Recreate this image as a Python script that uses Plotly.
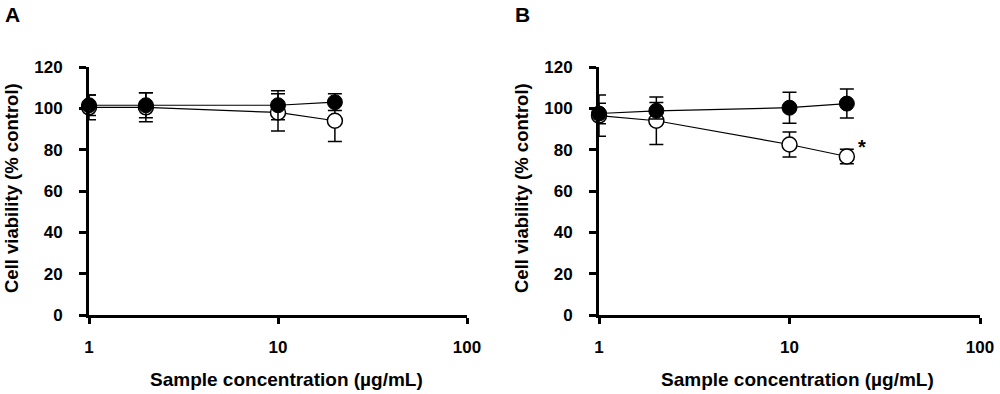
import plotly.graph_objects as go

conc = [1, 2, 10, 20]

# Panel A
a_filled = [101.5, 101.5, 101.5, 103.0]
a_filled_err = [5, 6, 7, 4]
a_open = [100.5, 100.5, 98.0, 94.0]
a_open_err = [6, 7, 9, 10]

# Panel B
b_filled = [97.5, 98.8, 100.3, 102.3]
b_filled_err = [5, 4, 7.5, 7]
b_open = [96.5, 94.0, 82.5, 76.7]
b_open_err = [10, 11.5, 6, 3.5]

x_ticks = [1, 10, 100]
x_ticktext = ["<b>1</b>", "<b>10</b>", "<b>100</b>"]
y_ticks = [0, 20, 40, 60, 80, 100, 120]
y_ticktext = ["<b>%d</b>" % v for v in y_ticks]

x_title = "<b>Sample concentration (µg/mL)</b>"
y_title = "<b>Cell viability (% control)</b>"

FONT = "Liberation Sans, Arial, sans-serif"

fig = go.Figure()

def add_panel(xa, ya, open_y, open_e, filled_y, filled_e):
    fig.add_trace(go.Scatter(
        x=conc, y=open_y, mode="lines+markers", xaxis=xa, yaxis=ya,
        line=dict(color="black", width=1.2),
        marker=dict(symbol="circle", size=15, color="white",
                    line=dict(color="black", width=1.5)),
        error_y=dict(type="data", array=open_e, visible=True,
                     color="black", thickness=1.5, width=7),
        cliponaxis=False, showlegend=False))
    fig.add_trace(go.Scatter(
        x=conc, y=filled_y, mode="lines+markers", xaxis=xa, yaxis=ya,
        line=dict(color="black", width=1.2),
        marker=dict(symbol="circle", size=15, color="black",
                    line=dict(color="black", width=1)),
        error_y=dict(type="data", array=filled_e, visible=True,
                     color="black", thickness=1.5, width=7),
        cliponaxis=False, showlegend=False))

add_panel("x", "y", a_open, a_open_err, a_filled, a_filled_err)
add_panel("x2", "y2", b_open, b_open_err, b_filled, b_filled_err)

ydom = [(394 - 315) / 394, (394 - 67) / 394]

xaxis_common = dict(
    type="log", range=[0, 2], tickvals=x_ticks, ticktext=x_ticktext,
    showline=True, linecolor="black", linewidth=2.8, mirror=False,
    ticks="outside", ticklen=6, tickwidth=2.8, tickcolor="black",
    showgrid=False, zeroline=False, automargin=False,
    ticklabelstandoff=9,
    tickfont=dict(family=FONT, size=17, color="black"),
)
yaxis_common = dict(
    range=[0, 120], tickvals=y_ticks, ticktext=y_ticktext,
    showline=True, linecolor="black", linewidth=2.8,
    ticks="outside", ticklen=7, tickwidth=2.8, tickcolor="black",
    showgrid=False, zeroline=False, automargin=False,
    ticklabelstandoff=13,
    tickfont=dict(family=FONT, size=17, color="black"),
    domain=ydom,
)

xdomA = [89 / 1000, 467 / 1000]
xdomB = [599 / 1000, 980 / 1000]

def title_annots(xdom, label, label_x):
    cx = (xdom[0] + xdom[1]) / 2 + 8 / 1000
    return [
        dict(text=x_title, x=cx, y=1 - 379 / 394, xref="paper", yref="paper",
             xanchor="center", yanchor="middle", showarrow=False,
             font=dict(family=FONT, size=19, color="black")),
        dict(text=y_title, x=xdom[0] - 78 / 1000, y=1 - 188 / 394,
             xref="paper", yref="paper", textangle=-90,
             xanchor="center", yanchor="middle", showarrow=False,
             font=dict(family=FONT, size=18.5, color="black")),
        dict(text="<b>%s</b>" % label, x=label_x, y=1 - 1 / 394,
             xref="paper", yref="paper", xanchor="left", yanchor="top",
             showarrow=False, font=dict(family=FONT, size=21, color="black")),
    ]

annots = title_annots(xdomA, "A", 3 / 1000) + title_annots(xdomB, "B", 513 / 1000)
annots.append(dict(text="<b>*</b>", x=1.30103, y=b_open[3], xref="x2", yref="y2",
                   xshift=15, yshift=9, showarrow=False,
                   font=dict(family=FONT, size=20, color="black")))

fig.update_layout(
    width=1000, height=394,
    margin=dict(l=0, r=0, t=0, b=0),
    paper_bgcolor="white", plot_bgcolor="white",
    font=dict(family=FONT, color="black"),
    xaxis=dict(domain=xdomA, anchor="y", **xaxis_common),
    yaxis=dict(anchor="x", **yaxis_common),
    xaxis2=dict(domain=xdomB, anchor="y2", **xaxis_common),
    yaxis2=dict(anchor="x2", **yaxis_common),
    annotations=annots,
)

fig.write_html("out.html", config={"displayModeBar": False},
               post_script="document.body.style.margin='0px';document.body.style.overflow='hidden';")
